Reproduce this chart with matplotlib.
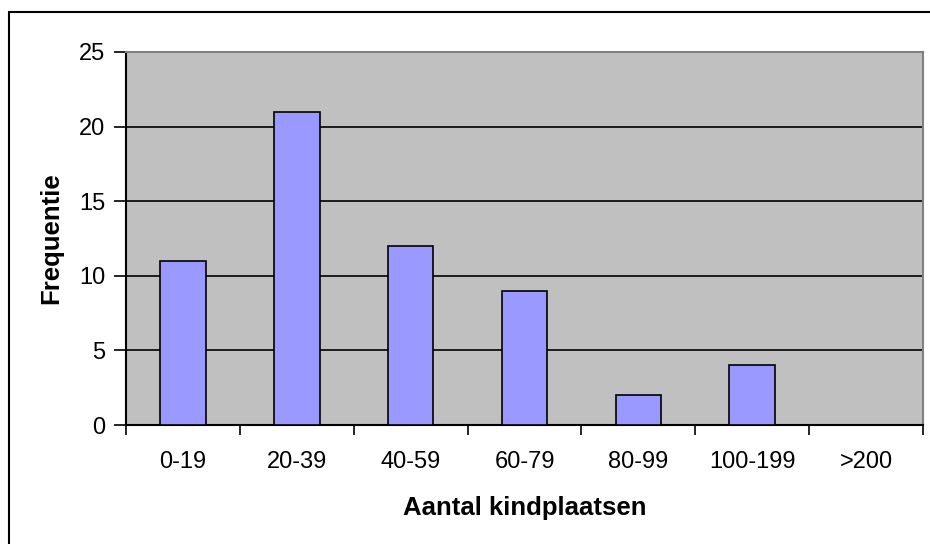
import matplotlib.pyplot as plt
from matplotlib.patches import Rectangle

# Categorieën en frequenties
categorieen = ['0-19', '20-39', '40-59', '60-79', '80-99', '100-199', '>200']
frequenties = [11, 21, 12, 9, 2, 4, 0]

plt.rcParams['font.family'] = ['Liberation Sans', 'DejaVu Sans']

fig = plt.figure(figsize=(9.3, 5.44), dpi=100)
ax = fig.add_axes([126 / 930, 1 - 425 / 544, (923 - 126) / 930, (425 - 52) / 544])
ax.set_facecolor('#c0c0c0')

# Kader rond de figuur (rechts en onder buiten beeld)
fig.patches.append(Rectangle((9 / 930, -0.05), 1.1, 1 - 11.5 / 544 + 0.05,
                             transform=fig.transFigure, fill=False,
                             edgecolor='black', linewidth=1.5))

posities = list(range(len(categorieen)))
ax.bar(posities, frequenties, width=0.4, color='#9999ff', edgecolor='black',
       linewidth=1.2, zorder=3)

ax.set_xlim(-0.5, len(categorieen) - 0.5)
ax.set_ylim(0, 25)
ax.set_yticks([0, 5, 10, 15, 20, 25])
for y in [5, 10, 15, 20]:
    ax.axhline(y, color='black', linewidth=1.2, zorder=1)

ax.set_xticks(posities)
ax.set_xticklabels(categorieen, fontsize=17)
ax.set_xticks([p - 0.5 for p in posities] + [len(categorieen) - 0.5], minor=True)
ax.tick_params(axis='x', which='major', length=0, pad=19)
ax.tick_params(axis='x', which='minor', length=7, width=1.2, direction='out')
ax.tick_params(axis='y', length=9, width=1.2, direction='out', labelsize=17, pad=6)

ax.spines['left'].set_linewidth(1.5)
ax.spines['bottom'].set_linewidth(1.5)
ax.spines['top'].set_color('#808080')
ax.spines['right'].set_color('#808080')
ax.spines['top'].set_linewidth(1.5)
ax.spines['right'].set_linewidth(1.5)

ax.set_xlabel('Aantal kindplaatsen', fontsize=18.5, fontweight='bold', labelpad=16)
ax.set_ylabel('Frequentie', fontsize=18.5, fontweight='bold', labelpad=11)

fig.savefig('out.png', dpi=100)
